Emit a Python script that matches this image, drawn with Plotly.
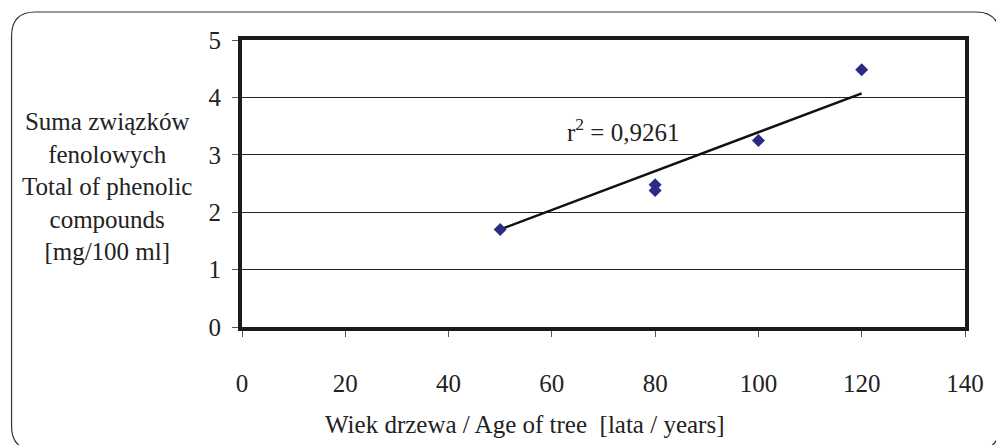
import plotly.graph_objects as go

# Data
age = [50, 80, 80, 100, 120]
phenolics = [1.70, 2.48, 2.38, 3.25, 4.48]
trend_x = [50, 120]
trend_y = [1.70, 4.07]
r2_text = "r<sup>2</sup> = 0,9261"
x_ticks = [0, 20, 40, 60, 80, 100, 120, 140]
y_ticks = [0, 1, 2, 3, 4, 5]

W, H = 996, 445
L, R, T, B = 242, 973, 40, 327  # plot area in pixels

def px(x):
    return (x - L) / (R - L)

def py(y):
    return (B - y) / (B - T)

FONT = "Liberation Serif"
TXT = "#222222"
FS = 25

fig = go.Figure()
fig.add_trace(go.Scatter(x=trend_x, y=trend_y, mode="lines",
                         line=dict(color="#111111", width=2.5), hoverinfo="skip"))
fig.add_trace(go.Scatter(x=age, y=phenolics, mode="markers",
                         marker=dict(symbol="diamond", size=10, color="#2b2b85")))

# Outer rounded frame (partly off-canvas on right and bottom, as in the reference)
x0, y0, x1, y1, r = 9, 12, 1008, 450, 24
path = (f"M {px(x0+r)},{py(y0)} L {px(x1-r)},{py(y0)} "
        f"Q {px(x1)},{py(y0)} {px(x1)},{py(y0+r)} "
        f"L {px(x1)},{py(y1-r)} Q {px(x1)},{py(y1)} {px(x1-r)},{py(y1)} "
        f"L {px(x0+r)},{py(y1)} Q {px(x0)},{py(y1)} {px(x0)},{py(y1-r)} "
        f"L {px(x0)},{py(y0+r)} Q {px(x0)},{py(y0)} {px(x0+r)},{py(y0)} Z")
fig.add_shape(type="path", path=path, xref="paper", yref="paper",
              line=dict(color="#333333", width=1.2), layer="below")

fig.add_annotation(x=px(106), y=py(186), xref="paper", yref="paper",
                   xanchor="center", yanchor="middle",
                   text="Suma związków<br>fenolowych<br>Total of phenolic<br>compounds<br>[mg/100 ml]",
                   showarrow=False, align="center",
                   font=dict(family=FONT, size=FS, color=TXT))
fig.add_annotation(x=px(528), y=py(424), xref="paper", yref="paper",
                   xanchor="center", yanchor="middle",
                   text="Wiek drzewa / Age of tree  [lata / years]",
                   showarrow=False, font=dict(family=FONT, size=FS, color=TXT))
fig.add_annotation(x=px(627), y=py(130), xref="paper", yref="paper",
                   xanchor="center", yanchor="middle",
                   text=r2_text, showarrow=False,
                   font=dict(family=FONT, size=FS, color=TXT))

fig.update_layout(
    width=W, height=H,
    margin=dict(l=L, r=W - R, t=T, b=H - B),
    paper_bgcolor="white", plot_bgcolor="white",
    showlegend=False,
    font=dict(family=FONT, size=FS, color=TXT),
    xaxis=dict(range=[0, 140], tickvals=x_ticks, showgrid=False, zeroline=False,
               showline=True, linecolor="#1a1a1a", linewidth=4, mirror=True,
               ticks="outside", ticklen=6, tickcolor="#555555",
               ticklabelstandoff=25),
    yaxis=dict(range=[0, 5], tickvals=y_ticks, showgrid=True, gridcolor="#222222",
               gridwidth=1, zeroline=False,
               showline=True, linecolor="#1a1a1a", linewidth=4, mirror=True,
               ticks="outside", ticklen=6, tickcolor="#555555",
               ticklabelstandoff=6),
)

fig.write_html("out.html")
